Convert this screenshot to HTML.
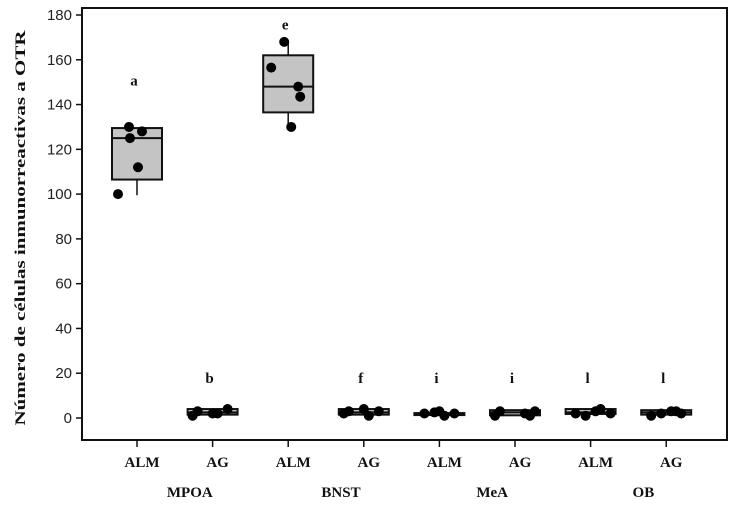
<!DOCTYPE html>
<html><head><meta charset="utf-8"><style>
html,body{margin:0;padding:0;background:#fff;}
svg{display:block;}
.t{font-family:"Liberation Sans",sans-serif;font-size:15px;fill:#222;}
.b{font-family:"Liberation Serif",serif;font-weight:bold;font-size:15px;fill:#111;}
</style></head><body>
<svg id="chart" width="729" height="506" xmlns="http://www.w3.org/2000/svg">
<rect x="82" y="8" width="645" height="432" fill="none" stroke="#111" stroke-width="2"/>
<text class="b" transform="translate(25,228) rotate(-90)" text-anchor="middle" font-size="19" textLength="395" lengthAdjust="spacingAndGlyphs">Número de células inmunorreactivas a OTR</text>
<g id="yaxis"></g>
<g id="xaxis"></g>
<g id="marks"></g>
</svg>
<script>
const categories = ["ALM","AG","ALM","AG","ALM","AG","ALM","AG"];
const groups = ["MPOA","BNST","MeA","OB"];
const yTicks = [0,20,40,60,80,100,120,140,160,180];
const boxMin = [99.5,1.5,130,1.5,1.8,1.2,1.5,1.5];
const boxQ1 = [106.5,1.5,136.5,1.5,1.8,1.2,1.8,1.5];
const boxMed = [125,2.5,148,2.5,2,2.5,2.5,2.5];
const boxQ3 = [129.5,4,162,4,2.2,3.5,4,3.5];
const boxMax = [129.5,4,168,4,2.2,3.5,4,3.5];
const sigLetters = ["a","b","e","f","i","i","l","l"];
const letterY = [145,12,170,12,12,12,12,12];
const points = [[130,128,125,112,100],[1,3,2,4,2],[168,156.5,148,143.5,130],[2,3,4,1,3],[2,2.5,3,1,2],[1,3,2,1,3],[2,1,3,4,2],[1,2,3,3,2]];
const pointOffsets = [[-8,5,-7,1,-19],[-20,-15,0,15,5],[-4,-17,10,12,3],[-20,-15,0,5,15],[-15,-5,0,5,15],[-20,-15,10,15,20],[-15,-5,5,10,20],[-15,-5,5,10,15]];

const NS="http://www.w3.org/2000/svg";
const y0=418, pxPerUnit=(418-15)/180;
const yScale=v=>y0-v*pxPerUnit;
const xScale=i=>137+i*75.6;
function mk(tag,attrs,parent){const e=document.createElementNS(NS,tag);for(const k in attrs)e.setAttribute(k,attrs[k]);parent.appendChild(e);return e;}
const ya=document.getElementById('yaxis'), xa=document.getElementById('xaxis'), mg=document.getElementById('marks');
yTicks.forEach(v=>{
  const l=mk('line',{x1:76,x2:82,y1:yScale(v),y2:yScale(v),stroke:'#111','stroke-width':1.5},ya);
  
  
  const t=mk('text',{x:72,y:yScale(v)+5,'text-anchor':'end',class:'t'},ya);
  t.textContent=v;
  
  
});
categories.forEach((c,i)=>{
  const x=xScale(i);
  const l=mk('line',{x1:x,x2:x,y1:440,y2:447,stroke:'#111','stroke-width':1.5},xa);
  
  
  const t=mk('text',{x:x+5,y:467,'text-anchor':'middle',class:'b'},xa);
  t.textContent=c;
  
  
});
groups.forEach((g,j)=>{
  const x=(xScale(2*j)+xScale(2*j+1))/2+15;
  const t=mk('text',{x:x,y:497,'text-anchor':'middle',class:'b'},xa);
  t.textContent=g;
  
  
});
categories.forEach((c,i)=>{
  const cx=xScale(i), w=50;
  const g=mk('g',{},mg);
  
  
  mk('line',{x1:cx,x2:cx,y1:yScale(boxMin[i]),y2:yScale(boxQ1[i]),stroke:'#111','stroke-width':1.5},g);
  mk('line',{x1:cx,x2:cx,y1:yScale(boxMax[i]),y2:yScale(boxQ3[i]),stroke:'#111','stroke-width':1.5},g);
  const h=Math.max(yScale(boxQ1[i])-yScale(boxQ3[i]),2);
  mk('rect',{x:cx-w/2,y:yScale(boxQ3[i]),width:w,height:h,fill:'#c4c4c4',stroke:'#111','stroke-width':2},g);
  mk('line',{x1:cx-w/2,x2:cx+w/2,y1:yScale(boxMed[i]),y2:yScale(boxMed[i]),stroke:'#111','stroke-width':2},g);
  points[i].forEach((p,k)=>{
    const d=mk('circle',{cx:cx+pointOffsets[i][k],cy:yScale(p),r:5,fill:'#000'},g);
    
    
  });
  const t=mk('text',{x:cx-3,y:yScale(letterY[i])-8,'text-anchor':'middle',class:'b','font-size':14},g);
  t.textContent=sigLetters[i];
  
  
});
</script>
</body></html>
